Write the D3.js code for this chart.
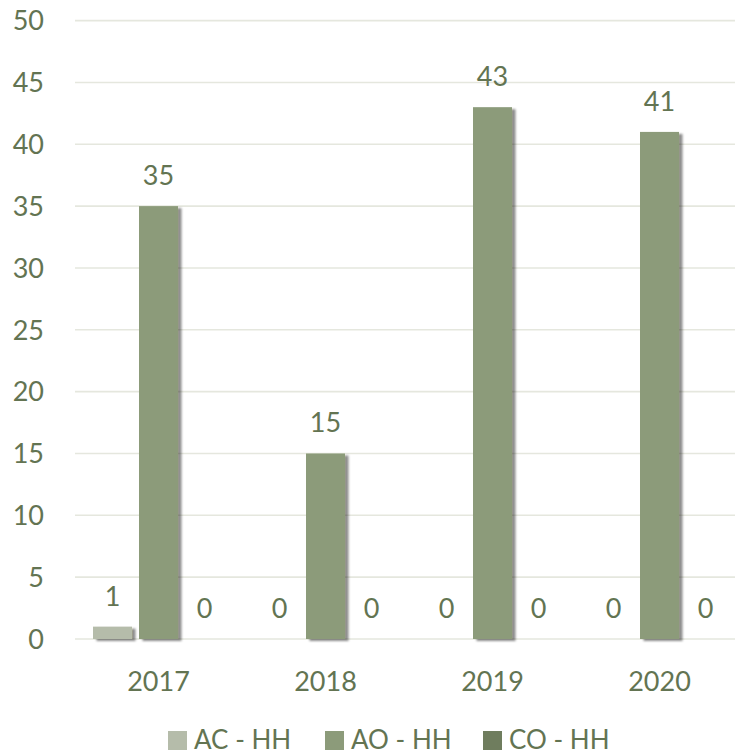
<!DOCTYPE html>
<html><head><meta charset="utf-8">
<script src="https://cdn.jsdelivr.net/npm/d3@7"></script>
<style>body{margin:0;background:#fff}svg{display:block}text{font-family:Lato,"Open Sans",sans-serif;}</style>
</head><body><svg id="c" width="735" height="755"></svg>
<script>
const years = ["2017","2018","2019","2020"];
const seriesNames = ["AC - HH","AO - HH","CO - HH"];
const acValues = [1,0,0,0];
const aoValues = [35,15,43,41];
const coValues = [0,0,0,0];
const yTicks = [0,5,10,15,20,25,30,35,40,45,50];
const colors = ["#b5bcaa","#8c9b7a","#6f7d5e"];
const textColor = "#637452";

const svg = d3.select("#c");
const defs = svg.append("defs");
const f = defs.append("filter").attr("id","sh").attr("x","-20%").attr("y","-20%").attr("width","150%").attr("height","150%");
f.append("feDropShadow").attr("dx",3.5).attr("dy",2).attr("stdDeviation",1.2).attr("flood-color","#000").attr("flood-opacity",0.45);

const y = d3.scaleLinear().domain([0,50]).range([639,20.6]);
const x0 = d3.scaleBand().domain(years).range([75,743]).paddingInner(0.2156).paddingOuter(0.1078);
const x1 = d3.scaleBand().domain(seriesNames).range([0,x0.bandwidth()]).paddingInner(0.152).paddingOuter(0);

svg.append("g").selectAll("line").data(yTicks).join("line")
  .attr("x1",75).attr("x2",735).attr("y1",d=>y(d)).attr("y2",d=>y(d))
  .attr("stroke","#e5e7de").attr("stroke-width",1.6);
svg.append("g").selectAll("text").data(yTicks).join("text")
  .attr("x",44).attr("y",d=>y(d)).attr("dy","0.36em").attr("text-anchor","end")
  .attr("font-size",27).attr("fill",textColor).text(d=>d);

const all = [acValues,aoValues,coValues];
const data = [];
years.forEach((yr,i)=>seriesNames.forEach((s,j)=>data.push({yr,s,j,v:all[j][i]})));

svg.append("g").selectAll("rect").data(data.filter(d=>d.v>0)).join("rect")
  .attr("x",d=>x0(d.yr)+x1(d.s)).attr("width",x1.bandwidth())
  .attr("y",d=>y(d.v)).attr("height",d=>y(0)-y(d.v))
  .attr("fill",d=>colors[d.j]).attr("filter","url(#sh)");

svg.append("g").selectAll("text").data(data).join("text")
  .attr("x",d=>x0(d.yr)+x1(d.s)+x1.bandwidth()/2).attr("y",d=>y(d.v)-21)
  .attr("text-anchor","middle").attr("font-size",27).attr("fill",textColor).text(d=>d.v);

svg.append("g").selectAll("text").data(years).join("text")
  .attr("x",d=>x0(d)+x0.bandwidth()/2).attr("y",691)
  .attr("text-anchor","middle").attr("font-size",27).attr("fill",textColor).text(d=>d);

const legX = [168,325,483];
const lg = svg.append("g").selectAll("g").data(seriesNames).join("g")
  .attr("transform",(d,i)=>`translate(${legX[i]},731)`);
lg.append("rect").attr("width",19).attr("height",19).attr("fill",(d,i)=>colors[i]);
lg.append("text").attr("x",26).attr("y",18).attr("font-size",26).attr("fill",textColor).text(d=>d);
</script></body></html>
